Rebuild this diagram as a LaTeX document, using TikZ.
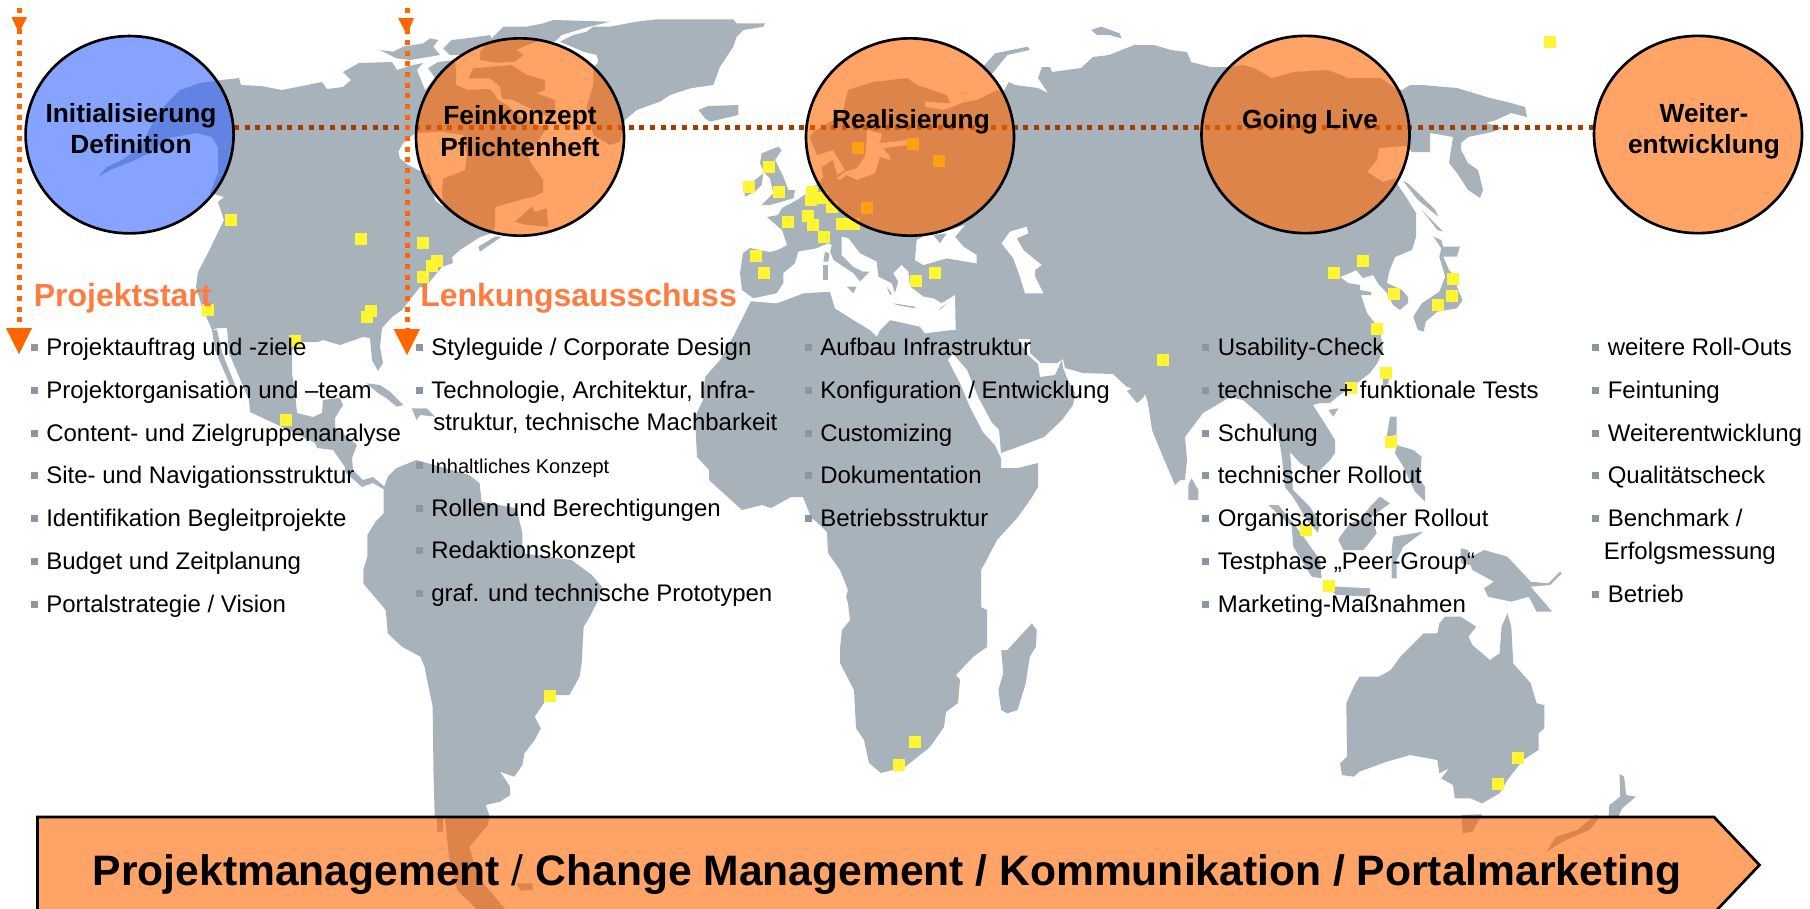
\documentclass[tikz,border=0pt]{standalone}
\usepackage{fontspec}
\setmainfont{Liberation Sans}
\usetikzlibrary{shapes.geometric}
\definecolor{landc}{HTML}{A8B2BB}
\definecolor{bulc}{HTML}{8A96A1}
\definecolor{hotc}{HTML}{FF6600}
\definecolor{bluec}{HTML}{3366FF}
\definecolor{brownc}{HTML}{A33D00}
\definecolor{headc}{HTML}{FF7C40}
\definecolor{cityc}{HTML}{FFF533}
\newcommand\poly[2][landfill]{\fill[#1] plot coordinates {#2} -- cycle;}
\newcommand\city[2]{\fill[cityc] (#1-6,#2-6) rectangle (#1+6,#2+6);}
\tikzset{
  landfill/.style={fill=landc},
  seafill/.style={fill=white},
  zA/.style 2 args={shift={(#1,#2)},xscale=0.40816,yscale=0.33333},
  zB/.style 2 args={shift={(#1,#2)},xscale=0.3891,yscale=0.33333},
  zC/.style 2 args={shift={(#1,#2)},xscale=0.33333,yscale=0.33333},
  hdots/.style={draw=brownc,line width=3.75pt,dash pattern=on 3.75pt off 4.25pt},
  vdots/.style={draw=hotc,line width=3.75pt,dash pattern=on 3.75pt off 4.25pt},
  phase/.style={ellipse,draw=black,line width=2pt,fill=hotc,fill opacity=.6,inner sep=0pt,minimum width=156pt,minimum height=148pt},
  phaseb/.style={phase,fill=bluec},
  ptitle/.style={font=\bfseries\fontsize{19.7}{24}\selectfont,anchor=base,inner sep=0pt},
  head/.style={font=\bfseries\fontsize{24}{28}\selectfont,text=headc,anchor=mid west,inner sep=0pt},
  item/.style={font=\fontsize{18}{20}\selectfont,anchor=mid west,inner sep=0pt,text=black,yshift=-3.4pt},
  smallitem/.style={font=\fontsize{15}{18}\selectfont,anchor=mid west,inner sep=0pt,text=black,yshift=-3pt},
  mark box/.style={fill=bulc,inner sep=0pt,minimum size=5.25pt},
  tip/.style={fill=hotc},
  banner/.style={draw=black,line width=2pt,fill=hotc,fill opacity=.6},
  bannertext/.style={font=\bfseries\fontsize{31.95}{36}\selectfont,inner sep=0pt,text=black,anchor=base},
}
\begin{document}
\begin{tikzpicture}[x=.75pt,y=-.75pt]
\useasboundingbox (0,0) rectangle (1810,908);
\clip (0,0) rectangle (1810,908);
% North America
\poly{(98,177)(107,167)(122,160)(141,147)(148,132)(157,115)(167,103)(180,90)(200,83)(222,80)(239,78)(241,85)(261,86)(282,90)(302,86)(322,82)(327,89)(343,87)(351,80)(343,72)(359,63)(392,62)(397,70)(413,65)(423,63)(417,70)(425,90)(435,78)(428,68)(438,62)(455,60)(456,72)(456,85)(468,90)(490,89)(495,95)(498,100)(507,105)(520,117)(537,125)(547,127)(537,143)(527,153)(530,162)(543,180)(543,192)(533,197)(527,198)(495,207)(495,227)(492,233)(480,237)(460,250)(452,257)(453,263)(442,267)(437,273)(425,287)(420,287)(402,310)(392,317)(382,328)(380,347)(383,363)(378,371)(372,360)(370,338)(363,337)(340,345)(323,340)(318,342)(300,342)(292,350)(292,373)(295,393)(297,413)(313,417)(322,413)(323,400)(340,398)(343,405)(335,418)(335,427)(357,445)(352,458)(353,470)(363,480)(373,477)(385,487)(385,490)(373,483)(362,487)(345,472)(345,467)(333,450)(317,448)(315,443)(282,427)(267,420)(250,412)(249,400)(229,353)(227,328)(218,328)(212,330)(202,307)(196,287)(198,272)(208,253)(224,220)(218,202)(224,197)(210,193)(218,173)(218,147)(212,137)(196,133)(169,138)(151,152)(135,160)(110,170)}
\poly{(212,330)(217,330)(222,352)(235,385)(230,385)(215,350)}
\begin{scope}[zC={380}{10}]
\poly[seafill]{(105,370)(70,400)(55,425)(60,445)(85,465)(115,480)(150,495)(165,570)(190,590)(185,540)(190,505)(255,480)(260,440)(250,375)(180,365)}
\poly{(0,120)(40,125)(70,110)(130,100)(150,85)(175,90)(160,110)(180,135)(90,150)(50,145)(20,130)}
\poly{(190,115)(215,90)(260,85)(330,75)(340,95)(290,115)(240,135)(210,135)}
\poly{(335,85)(370,50)(440,50)(490,40)(520,30)(690,35)(610,55)(545,75)(525,95)(480,92)(440,105)(410,120)(430,135)(405,155)(350,158)(300,150)(300,125)}
\poly{(265,205)(280,175)(395,165)(440,195)(495,210)(495,240)(470,250)(525,270)(525,295)(505,320)(460,300)(400,270)(365,265)(360,230)(330,205)}
\poly{(405,635)(455,590)(465,605)(500,595)(505,650)(440,645)}
\poly{(295,710)(345,680)(365,680)(300,725)}
% Greenland, Iceland
\poly{(540,95)(580,75)(620,65)(640,50)(690,50)(770,35)(830,28)(1060,28)(1070,40)(1155,40)(1150,50)(1090,60)(1070,80)(1060,110)(1020,170)(1000,225)(930,235)(870,255)(840,275)(770,300)(735,330)(720,395)(690,405)(640,375)(620,290)(640,225)(640,175)(655,155)(650,135)(610,125)}
\poly{(955,300)(985,288)(1075,285)(1075,315)(990,335)(975,325)}
\end{scope}
\begin{scope}[zC={250}{330}]
\poly{(350,160)(390,165)(420,185)(460,225)(440,230)(410,205)(385,190)}
\poly{(485,235)(530,235)(555,260)(510,255)(500,270)}
\end{scope}
% South America
\begin{scope}[zA={0}{400}]
\poly{(940,265)(950,230)(970,205)(1020,180)(1150,225)(1175,250)(1180,305)(1265,325)(1280,400)(1280,460)(1400,480)(1450,525)(1475,560)(1470,590)(1445,650)(1430,680)(1425,790)(1420,830)(1395,885)(1360,885)(1335,905)(1310,950)(1325,985)(1310,1020)(1285,1060)(1280,1095)(1260,1130)(1225,1115)(1250,1160)(1250,1185)(1225,1205)(1190,1215)(1200,1250)(1195,1275)(1150,1340)(1170,1430)(1240,1530)(1170,1530)(1120,1470)(1100,1370)(1090,1250)(1065,1250)(1062,1110)(1060,920)(1040,800)(1030,770)(985,740)(950,700)(945,630)(890,550)(890,510)(900,470)(900,405)(920,365)(940,340)}
\poly{(1070,1250)(1085,1250)(1085,1295)(1070,1295)}
\poly{(1265,1450)(1305,1450)(1305,1470)(1275,1472)}
\end{scope}
% Eurasia + Africa
\poly{(848,90)(845,102)(843,113)(833,120)(813,132)(810,138)(817,155)(833,150)(845,170)(837,175)(833,160)(822,167)(823,177)(817,185)(808,187)(807,193)(797,200)(782,208)(778,215)(767,217)(782,230)(787,245)(778,250)(770,252)(750,248)(743,253)(740,273)(742,290)(753,298)(750,303)(733,337)(720,360)(705,377)(703,400)(695,417)(697,457)(709,470)(709,480)(742,510)(762,505)(771,508)(791,497)(803,497)(811,517)(827,532)(828,553)(840,570)(848,590)(846,597)(848,603)(850,620)(842,630)(840,648)(840,663)(854,690)(856,728)(864,740)(869,763)(881,773)(905,767)(930,747)(944,727)(946,712)(958,703)(960,680)(956,675)(973,657)(987,647)(987,610)(981,607)(981,570)(985,563)(997,540)(1018,517)(1032,497)(1038,487)(1038,463)(1018,468)(1001,468)(1001,458)(1001,453)(1015,448)(1044,437)(1062,420)(1073,405)(1075,393)(1068,380)(1063,368)(1062,360)(1055,375)(1040,377)(1038,364)(1028,355)(1018,339)(1030,339)(1030,353)(1041,363)(1057,363)(1063,359)(1065,368)(1083,373)(1113,374)(1127,387)(1132,388)(1127,391)(1137,403)(1143,398)(1145,394)(1148,403)(1152,430)(1163,457)(1175,485)(1180,480)(1185,480)(1187,460)(1185,437)(1203,413)(1220,403)(1230,397)(1243,400)(1258,413)(1278,433)(1282,458)(1285,487)(1293,497)(1307,520)(1318,533)(1320,523)(1310,507)(1293,490)(1290,452)(1300,463)(1317,473)(1330,460)(1335,453)(1335,440)(1327,427)(1313,405)(1320,403)(1330,403)(1337,397)(1357,383)(1370,373)(1378,362)(1383,350)(1380,330)(1367,313)(1361,295)(1371,295)(1371,292)(1360,290)(1360,285)(1348,283)(1340,277)(1350,273)(1356,270)(1363,278)(1373,275)(1379,285)(1387,293)(1393,305)(1400,310)(1408,303)(1408,297)(1402,290)(1387,283)(1389,272)(1395,257)(1412,250)(1416,237)(1416,213)(1406,197)(1398,185)(1395,178)(1383,182)(1367,172)(1377,160)(1379,148)(1406,146)(1412,152)(1430,152)(1430,133)(1453,137)(1449,163)(1457,173)(1468,190)(1480,198)(1483,190)(1478,170)(1468,163)(1461,150)(1461,143)(1468,137)(1492,132)(1503,128)(1486,123)(1496,120)(1511,113)(1527,117)(1525,107)(1511,103)(1490,98)(1457,88)(1422,85)(1410,85)(1402,90)(1393,87)(1381,78)(1348,78)(1328,70)(1293,72)(1272,78)(1254,68)(1243,65)(1228,67)(1211,67)(1191,62)(1187,52)(1171,50)(1154,45)(1134,45)(1109,55)(1093,57)(1081,68)(1052,72)(1050,67)(1042,67)(1038,78)(1048,93)(1038,88)(1015,85)(1009,82)(1003,92)(997,90)(977,100)(965,102)(967,92)(960,92)(963,102)(957,98)(950,103)(947,95)(917,85)(907,78)(873,82)}
% Red Sea
\poly[seafill]{(948,360)(953,354)(967,370)(978,397)(992,423)(999,430)(1001,453)(1001,458)(995,445)(983,432)(970,407)(960,383)}
\begin{scope}[zC={800}{60}]
% White Sea, Baltic
\poly[seafill]{(375,125)(450,130)(475,110)(480,97)(500,97)(495,125)(470,135)(430,150)(375,140)}
\poly[seafill]{(200,205)(215,215)(245,220)(240,250)(320,240)(320,255)(250,265)(270,290)(270,300)(240,290)(225,340)(170,360)(140,345)(120,360)(110,355)(135,335)(170,325)(195,290)(200,240)}
\end{scope}
\begin{scope}[zC={720}{130}]
% Mediterranean, Black Sea, Caspian
\poly[seafill]{(80,512)(100,505)(170,490)(190,460)(190,430)(225,400)(235,365)(290,355)(325,340)(335,345)(330,365)(340,390)(400,430)(420,455)(430,445)(450,425)(430,425)(400,410)(365,375)(365,320)(385,325)(420,370)(470,395)(475,440)(515,460)(525,490)(535,455)(520,430)(545,405)(565,425)(570,470)(610,500)(640,505)(665,520)(705,495)(707,600)(695,600)(615,610)(600,590)(510,570)(480,600)(470,620)(450,600)(400,570)(345,535)(330,485)(250,490)(170,520)(110,515)}
\poly[seafill]{(590,330)(640,305)(690,300)(735,285)(705,320)(730,350)(770,375)(770,400)(680,385)(610,405)(585,390)}
\poly{(640,315)(680,310)(660,340)}
\poly[seafill]{(845,340)(870,305)(920,290)(925,310)(890,325)(910,360)(940,385)(965,405)(945,420)(945,440)(970,490)(915,490)(900,440)(880,385)}
\poly{(315,365)(328,370)(325,395)(310,395)}
\poly{(310,405)(325,405)(325,450)(310,450)}
\poly{(380,470)(410,470)(400,490)}
\poly{(520,520)(585,530)(585,535)(530,525)}
\poly{(655,540)(680,520)(665,535)}
\poly{(500,470)(515,490)(510,495)}
% UK, Ireland
\poly{(125,70)(175,50)(185,60)(165,90)(190,140)(205,180)(225,180)(220,205)(150,225)(125,225)(160,190)(150,145)(135,130)(120,100)}
\poly{(70,165)(105,150)(130,130)(125,165)(105,185)(75,200)}
\end{scope}
\begin{scope}[zA={640}{0}]
\poly{(840,200)(870,160)(950,140)(955,150)(900,165)(860,225)}
\poly{(1105,90)(1130,80)(1175,100)(1180,115)(1150,105)(1120,105)}
\end{scope}
\begin{scope}[zA={640}{400}]
\poly{(960,670)(972,690)(970,740)(955,770)(945,850)(925,930)(900,940)(885,930)(878,870)(890,820)(885,750)(900,750)(930,710)}
\end{scope}
\begin{scope}[zB={1200}{0}]
\poly{(522,543)(535,550)(605,630)(612,650)(560,600)}
\poly{(570,630)(625,695)(610,690)}
\poly{(600,710)(620,720)(625,740)(668,740)(660,770)(625,770)(640,810)(665,840)(660,860)(675,900)(660,925)(610,935)(580,965)(575,995)(560,990)(548,950)(570,910)(615,875)(630,830)(615,770)(620,745)}
\end{scope}
\begin{scope}[zC={1000}{300}]
\poly{(565,555)(575,535)(595,570)(595,600)(565,600)}
\end{scope}
\begin{scope}[zC={1130}{320}]
\poly{(485,620)(490,680)(545,770)(575,775)(570,720)(520,650)(490,610)}
\poly{(415,555)(445,555)(490,610)(480,615)}
\poly{(580,795)(620,800)(720,805)(720,830)(620,825)}
\poly{(630,650)(660,610)(690,600)(720,560)(750,530)(780,550)(725,590)(740,640)(700,690)(640,690)(625,660)}
\poly{(785,690)(790,650)(850,640)(880,635)(820,680)(800,720)(800,775)(785,775)}
\poly{(780,290)(800,290)(800,345)(770,350)}
\poly{(800,375)(850,390)(875,410)(870,480)(885,500)(885,545)(855,515)(820,440)(795,400)}
\poly{(755,150)(780,150)(775,190)(760,200)}
\poly{(595,270)(625,265)(610,290)}
\end{scope}
\begin{scope}[zB={1200}{400}]
\poly{(670,445)(690,450)(690,475)(730,450)(790,470)(850,545)(895,550)(925,515)(930,520)(900,555)(850,560)(905,635)(865,635)(845,590)(800,605)(740,590)(730,565)(755,545)(700,510)(695,495)(670,490)}
\poly{(630,650)(670,650)(710,680)(690,710)(700,735)(745,780)(770,760)(775,680)(790,640)(800,680)(805,790)(850,850)(865,910)(885,915)(885,985)(870,1000)(870,1050)(830,1080)(790,1140)(770,1180)(725,1210)(695,1195)(655,1195)(650,1155)(620,1135)(640,1105)(615,1120)(610,1080)(540,1065)(480,1085)(410,1115)(395,1130)(365,1125)(360,1090)(378,1070)(376,910)(395,860)(410,830)(460,830)(490,810)(515,770)(575,700)(610,700)(615,670)}
\poly{(672,1245)(725,1243)(700,1295)(675,1300)}
\poly{(1078,1122)(1090,1130)(1095,1185)(1120,1190)(1085,1225)(1075,1250)(1050,1250)(1052,1215)(1080,1190)}
\poly{(1015,1245)(1030,1250)(1000,1290)(940,1320)(890,1355)(915,1310)(970,1290)}
\end{scope}
% Cities
\city{230.6}{220}\city{361}{239}\city{423}{243}\city{437}{261}\city{432}{266}\city{423}{277}\city{208}{310}\city{371}{311}\city{366.5}{317}\city{295}{341}\city{286}{420}\city{550}{696}
\city{768.6}{167}\city{748.6}{187}\city{779}{192}\city{812}{192}\city{811.4}{200}\city{821.6}{198}\city{832}{207}\city{808}{216}\city{813}{225}\city{788}{222}\city{842}{224}\city{854}{224}\city{824}{237}\city{756}{256}\city{764}{273}\city{916}{281}\city{935}{273}\city{1163}{360}\city{857.5}{148}\city{912.7}{144}\city{939}{161}\city{867}{208}
\city{915}{742}\city{899}{765}
\city{1550}{42}\city{1334}{273}\city{1363}{261}\city{1394}{294}\city{1453}{279}\city{1452}{296}\city{1438}{305}\city{1377}{329}\city{1386}{373}\city{1351}{388}\city{1391}{442}\city{1306}{530}\city{1329}{586}\city{1518}{758}\city{1498}{784}
% Lines
\coordinate (hs) at (234,127.5);
\coordinate (he) at (1594,127.5);
\coordinate (va) at (19,8);
\coordinate (vb) at (19,330);
\coordinate (vc) at (407,8);
\coordinate (vd) at (407,332);
\draw[hdots] (hs) -- (he);
\draw[vdots] (va) -- (vb);
\draw[vdots] (vc) -- (vd);
\fill[tip] (11.5,17) -- (27,17) -- (19,33) -- cycle;
\fill[tip] (6,328) -- (32,328) -- (19,354) -- cycle;
\fill[tip] (398,18) -- (414,18) -- (407,35) -- cycle;
\fill[tip] (393.5,329) -- (420,329) -- (407,355) -- cycle;
% Phases
\node[phaseb] (c1) at (129.6,134.7) {};
\node[phase] (c2) at (520,137) {};
\node[phase] (c3) at (910,137) {};
\node[phase] (c4) at (1305.5,134.5) {};
\node[phase] (c5) at (1698,134.5) {};
\node[ptitle] (t1) at (131,122) {Initialisierung};
\node[ptitle] (t1b) at (131,153.5) {Definition};
\node[ptitle] (t2) at (520,124) {Feinkonzept};
\node[ptitle] (t2b) at (520,156) {Pflichtenheft};
\node[ptitle] (t3) at (911,128) {Realisierung};
\node[ptitle] (t4) at (1310,128) {Going Live};
\node[ptitle] (t5) at (1704,122) {Weiter-};
\node[ptitle] (t5b) at (1704,153.5) {entwicklung};
\node[head] (h1) at (33.5,303) {Projektstart};
\node[head] (h2) at (420,303) {Lenkungsausschuss};
% Column 1
\foreach \n/\yy/\tx in {a/347.5/{Projektauftrag und -ziele},b/390/{Projektorganisation und –team},c/433/{Content- und Zielgruppenanalyse},d/475.5/{Site- und Navigationsstruktur},e/518/{Identifikation Begleitprojekte},f/561/{Budget und Zeitplanung},g/604/{Portalstrategie / Vision}}{
  \node[mark box] (ma\n) at (34,\yy) {};
  \node[item] (ta\n) at (46,\yy) {\tx};
}
% Column 2
\foreach \n/\yy/\tx in {a/347.5/{Styleguide / Corporate Design},b/390/{Technologie, Architektur, Infra-},d/508/{Rollen und Berechtigungen},e/550.5/{Redaktionskonzept},f/593/{graf. und technische Prototypen}}{
  \node[mark box] (mb\n) at (419,\yy) {};
  \node[item] (tb\n) at (431,\yy) {\tx};
}
\node[item] (tbc) at (433,422) {struktur, technische Machbarkeit};
\node[mark box] (mbg) at (419,465) {};
\node[smallitem] (tbg) at (430,466) {Inhaltliches Konzept};
% Column 3
\foreach \n/\yy/\tx in {a/347.5/{Aufbau Infrastruktur},b/390/{Konfiguration / Entwicklung},c/433/{Customizing},d/475.5/{Dokumentation},e/518/{Betriebsstruktur}}{
  \node[mark box] (mc\n) at (808,\yy) {};
  \node[item] (tc\n) at (820,\yy) {\tx};
}
% Column 4
\foreach \n/\yy/\tx in {a/347.5/{Usability-Check},b/390/{technische + funktionale Tests},c/433/{Schulung},d/475.5/{technischer Rollout},e/518/{Organisatorischer Rollout},f/561/{Testphase „Peer-Group“},g/604/{Marketing-Maßnahmen}}{
  \node[mark box] (md\n) at (1205,\yy) {};
  \node[item] (td\n) at (1217.5,\yy) {\tx};
}
% Column 5
\foreach \n/\yy/\tx in {a/347.5/{weitere Roll-Outs},b/390/{Feintuning},c/433/{Weiterentwicklung},d/475.5/{Qualitätscheck},e/518/{Benchmark /},f/594/{Betrieb}}{
  \node[mark box] (me\n) at (1595,\yy) {};
  \node[item] (te\n) at (1607.5,\yy) {\tx};
}
\node[item] (teg) at (1603.5,551) {Erfolgsmessung};
% Banner
\path[banner] (37.5,817) -- (1714,817) -- (1759.5,865) -- (1714,913) -- (37.5,913) -- cycle;
\node[bannertext] (bt) at (887,885) {Projektmanagement {\mdseries /} Change Management / Kommunikation / Portalmarketing};
\end{tikzpicture}
\end{document}
